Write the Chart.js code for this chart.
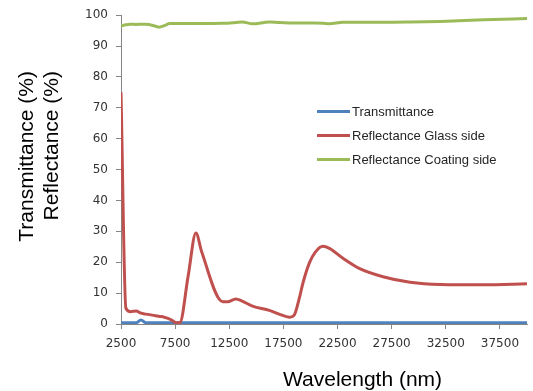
<!DOCTYPE html>
<html>
<head>
<meta charset="utf-8">
<script src="https://cdn.jsdelivr.net/npm/chart.js@4/dist/chart.umd.min.js"></script>
<style>
  html, body { margin: 0; padding: 0; background: #ffffff; }
  #wrap { width: 533px; height: 391px; position: relative; }
</style>
</head>
<body>
<div id="wrap"><canvas id="c" width="533" height="391"></canvas></div>
<script>
// ---- data ----
const wavelengths = [2500, 2950, 3400, 3900, 4350, 4800, 5700, 6000, 6500, 7000, 7250, 7600, 7950,
  8700, 9420, 9950, 11900, 12350, 13100, 13700, 14650, 16200, 17100, 18050, 18500, 19000, 19300, 19900,
  20450, 21150, 21750, 23000, 24500, 26700, 29200, 32000, 36000, 40000];

const transmittance = [0.4, 0.4, 0.4, 0.4, 1.3, 0.4, 0.4, 0.4, 0.4, 0.4, 0.4, 0.4, 0.4,
  0.4, 0.4, 0.4, 0.4, 0.4, 0.4, 0.4, 0.4, 0.4, 0.4, 0.4, 0.4, 0.4, 0.4, 0.4,
  0.4, 0.4, 0.4, 0.4, 0.4, 0.4, 0.4, 0.4, 0.4, 0.4];

const reflectanceGlass = [75, 5.1, 4.0, 4.2, 3.5, 3.2, 2.7, 2.5, 2.2, 1.6, 1.1, 0.4, 0.5,
  15.5, 29.5, 23.4, 7.2, 7.2, 8.1, 7.4, 5.8, 4.4, 3.2, 2.2, 2.9, 8.8, 13.2, 19.8,
  23.3, 25.2, 24.5, 21.3, 18.0, 15.3, 13.5, 12.8, 12.7, 13.0];

const reflectanceCoating = [96.5, 96.9, 97.1, 97.0, 97.1, 97.1, 96.4, 96.1, 96.6, 97.3, 97.3, 97.3, 97.3,
  97.3, 97.3, 97.3, 97.4, 97.4, 97.6, 97.8, 97.2, 97.8, 97.6, 97.5, 97.5, 97.5, 97.5, 97.5,
  97.5, 97.4, 97.2, 97.7, 97.7, 97.7, 97.8, 98.0, 98.5, 98.9];

const seriesNames = ['Transmittance', 'Reflectance Glass side', 'Reflectance Coating side'];
const xTickValues = [2500, 7500, 12500, 17500, 22500, 27500, 32500, 37500];
const xTickLabels = ['2500', '7500', '12500', '17500', '22500', '27500', '32500', '37500'];
const xTitle = 'Wavelength (nm)';
const yTitleLines = ['Transmittance (%)', 'Reflectance (%)'];

// ---- chart ----
const colors = ['#4F81BD', '#C0504D', '#9BBB59'];
const seriesValues = [transmittance, reflectanceGlass, reflectanceCoating];
const drawOrder = [3, 2, 1];

const datasets = seriesValues.map((vals, i) => ({
  label: seriesNames[i],
  data: wavelengths.map((w, j) => ({ x: w, y: vals[j] })),
  borderColor: colors[i],
  backgroundColor: colors[i],
  borderWidth: 3,
  pointRadius: 0,
  fill: false,
  cubicInterpolationMode: 'monotone',
  order: drawOrder[i]
}));

const customText = {
  id: 'customText',
  afterDraw(chart) {
    const ctx = chart.ctx;
    ctx.save();
    // legend inside plot area
    ctx.font = '13px "Liberation Sans", Arial, sans-serif';
    ctx.textBaseline = 'middle';
    ctx.textAlign = 'left';
    chart.data.datasets.forEach((ds, i) => {
      const y = 111.5 + 24 * i;
      ctx.strokeStyle = ds.borderColor;
      ctx.lineWidth = 3;
      ctx.beginPath();
      ctx.moveTo(317, y);
      ctx.lineTo(350, y);
      ctx.stroke();
      ctx.fillStyle = '#262626';
      ctx.fillText(ds.label, 352, y + 0.5);
    });
    // axis titles
    ctx.fillStyle = '#000000';
    ctx.font = '21px "Liberation Sans", Arial, sans-serif';
    ctx.textBaseline = 'alphabetic';
    ctx.textAlign = 'left';
    ctx.fillText(xTitle, 283, 386);
    const baseX = [33, 58];
    yTitleLines.forEach((t, i) => {
      ctx.save();
      ctx.translate(baseX[i], 71);
      ctx.rotate(-Math.PI / 2);
      ctx.textAlign = 'right';
      ctx.fillText(t, 0, 0);
      ctx.restore();
    });
    ctx.restore();
  }
};

new Chart(document.getElementById('c'), {
  type: 'line',
  data: { datasets },
  options: {
    responsive: false,
    animation: false,
    layout: { padding: { left: 0, top: 15, right: 6, bottom: 0 } },
    plugins: { legend: { display: false }, tooltip: { enabled: false } },
    scales: {
      x: {
        type: 'linear',
        min: 2500,
        max: 40000,
        afterBuildTicks(scale) { scale.ticks = xTickValues.map(v => ({ value: v })); },
        afterFit(scale) { scale.height = 67; },
        ticks: {
          autoSkip: false,
          maxRotation: 0,
          padding: 8,
          color: '#333333',
          font: { family: '"DejaVu Sans", sans-serif', size: 12 },
          callback(v) { const k = xTickValues.indexOf(v); return k >= 0 ? xTickLabels[k] : ''; }
        },
        grid: { display: true, drawOnChartArea: false, drawTicks: true, tickLength: 5, color: '#868686' },
        border: { display: true, color: '#868686', width: 1 }
      },
      y: {
        min: 0,
        max: 100,
        afterFit(scale) { scale.width = 121; },
        ticks: {
          stepSize: 10,
          padding: 8,
          color: '#333333',
          font: { family: '"DejaVu Sans", sans-serif', size: 12 }
        },
        grid: { display: true, drawOnChartArea: false, drawTicks: true, tickLength: 5, color: '#868686' },
        border: { display: true, color: '#868686', width: 1 }
      }
    }
  },
  plugins: [customText]
});
</script>
</body>
</html>
